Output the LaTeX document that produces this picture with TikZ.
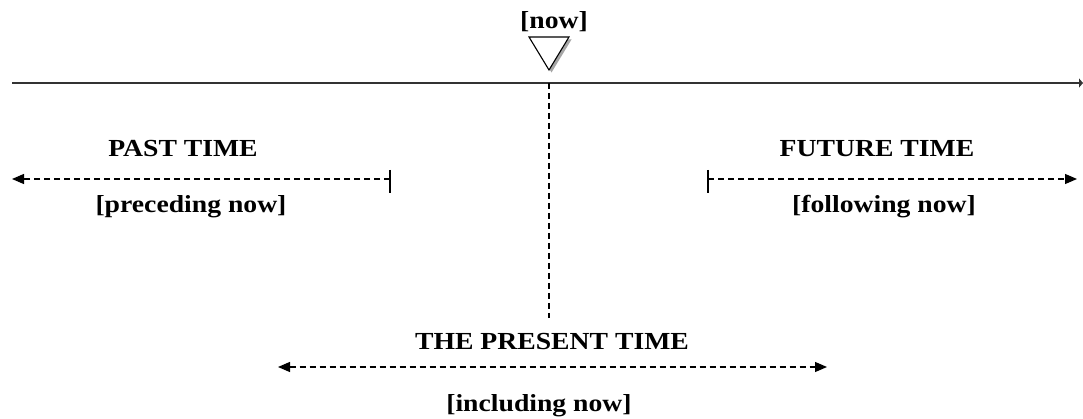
\documentclass[tikz,border=0pt]{standalone}
\usepackage{fontspec}
\setmainfont{Liberation Serif}[FakeStretch=1.13]
\usetikzlibrary{arrows.meta}
\begin{document}
\begin{tikzpicture}[x=1pt,y=-1pt,
  lbl/.style={font=\fontsize{24.5}{28}\selectfont\bfseries, inner sep=0pt, anchor=base},
  span/.style={line width=1.2pt, dash pattern=on 6pt off 4pt,
    -{Triangle[length=12pt,width=10pt]}},
  bispan/.style={line width=1.2pt, dash pattern=on 6pt off 4pt,
    {Triangle[length=12pt,width=10pt]}-{Triangle[length=12pt,width=10pt]}},
  tickmark/.style={line width=1.3pt},
  axis/.style={line width=1.6pt, draw=black!80, -{Triangle[length=4pt,width=9pt]}},
  nowline/.style={line width=1.2pt, dash pattern=on 6pt off 4pt}]
\useasboundingbox (0,0) rectangle (1083,419);
\fill[white] (0,0) rectangle (1083,419);

% main time axis
\coordinate (axL) at (12,83);
\coordinate (axR) at (1083,83);
\draw[axis] (axL) -- (axR);

% now marker
\node[lbl] (now) at (554,29) {[now]};
\coordinate (triA) at (529,37);
\coordinate (triB) at (569,37);
\coordinate (triC) at (549,70);
\fill[black!35] ([shift={(2.5,2.5)}]triA) -- ([shift={(2.5,2.5)}]triB) -- ([shift={(2.5,2.5)}]triC) -- cycle;
\draw[line width=1.1pt, fill=white, line join=miter] (triA) -- (triB) -- (triC) -- cycle;

% vertical dashed line
\coordinate (vTop) at (549,83);
\coordinate (vBot) at (549,318);
\draw[nowline] (vTop) -- (vBot);

% past time
\node[lbl] (past) at (183,157) {PAST TIME};
\node[lbl] (pastsub) at (191,213) {[preceding now]};
\coordinate (pastS) at (390,179);
\coordinate (pastE) at (12,179);
\coordinate (pastT1) at (390,170);
\coordinate (pastT2) at (390,193);
\draw[tickmark] (pastT1) -- (pastT2);
\draw[span] (pastS) -- (pastE);

% future time
\node[lbl] (future) at (877,157) {FUTURE TIME};
\node[lbl] (futuresub) at (884,213) {[following now]};
\coordinate (futS) at (708,179);
\coordinate (futE) at (1077,179);
\coordinate (futT1) at (708,170);
\coordinate (futT2) at (708,193);
\draw[tickmark] (futT1) -- (futT2);
\draw[span] (futS) -- (futE);

% present time
\node[lbl] (present) at (552,349) {THE PRESENT TIME};
\node[lbl] (presentsub) at (539,411) {[including now]};
\coordinate (presL) at (278,367);
\coordinate (presR) at (827,367);
\draw[bispan] (presL) -- (presR);
\end{tikzpicture}
\end{document}
